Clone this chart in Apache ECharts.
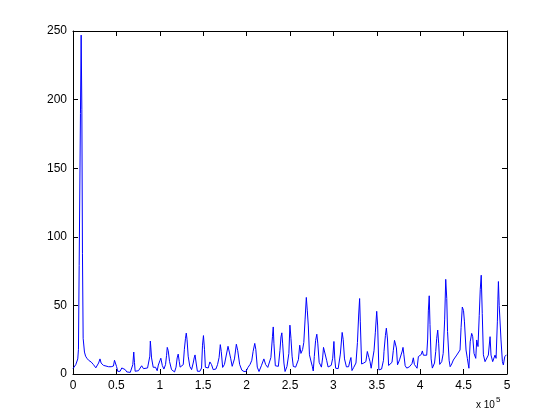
<!DOCTYPE html>
<html>
<head>
<meta charset="utf-8">
<script src="https://cdn.jsdelivr.net/npm/echarts@6/dist/echarts.min.js"></script>
<style>
  html, body { margin: 0; padding: 0; background: #fff; }
  #chart { width: 560px; height: 420px; }
</style>
</head>
<body>
<div id="chart"></div>
<script>
// x positions in thousands (axis shows them as x 10^5)
const freq = [
  0, 3.2, 5.5, 6.3, 7.1, 8.6, 9.4, 10.2, 10.9, 11.7, 13.2, 14.5, 16, 18, 21, 23.6, 26.3, 29.5, 31.1, 32.4,
  35, 37, 41, 44, 46.6, 47.8, 49.3, 50.1, 51.6, 54.3, 56.2, 57.9, 60.1, 62, 66, 68.2, 68.9, 70, 70.8, 71.6,
  75.4, 77.3, 79.1, 81.2, 83.1, 85.9, 87.8, 88.5, 89.1, 89.7, 90.5, 92.4, 95.1, 97, 98.3, 100.3, 101.2, 102.9, 104.7, 106.6,
  107.8, 108.6, 109.7, 111.2, 113.5, 115.8, 117, 118.7, 120, 121.2, 122.4, 123.4, 125, 127, 128.3, 129.6, 130.5, 131.4, 132.7, 134.6,
  136.6, 138.5, 139.6, 140.6, 141.9, 143.3, 146.2, 148.1, 149.2, 150.3, 151.5, 152.5, 155.8, 157.7, 159.6, 161.5, 164.6, 166.5, 168.3, 169.7,
  170.8, 172.4, 174.5, 176.6, 178.6, 180.1, 181.6, 183.4, 186, 188.2, 189.8, 192, 194.5, 197, 199.5, 201.5, 204, 206, 207.5, 209.4,
  210.6, 212.3, 214.3, 217, 219.9, 222, 224.4, 228, 229.8, 230.7, 231.5, 233.1, 236.6, 238.4, 239.6, 240.6, 241.5, 243, 244.3, 246.5,
  248.7, 249.9, 251.1, 252.4, 253.8, 255, 256.5, 258.4, 259.7, 261.2, 262.6, 264.5, 265.9, 267.4, 268.8, 269.9, 271.1, 272.4, 274.1, 275.7,
  276.8, 278, 279.5, 280.9, 282, 283.6, 286.2, 287.6, 288.6, 290.7, 292.2, 293.9, 297.5, 299.2, 300.6, 301.6, 302.6, 304.5, 305.5, 308,
  310.1, 311.3, 312.8, 315, 317.5, 319, 320.2, 321.4, 323.4, 326, 327.7, 329.1, 330.2, 331, 332.5, 335, 337.4, 339.1, 340.9, 342.2,
  343.5, 344.9, 346.8, 348.3, 349.9, 351, 352.4, 353.5, 355.5, 357.7, 358.3, 359.9, 361, 362.3, 363.6, 365.5, 367.5, 369, 370.4, 371.3,
  372.6, 373.9, 376.2, 379.3, 380.2, 381.2, 382.7, 384.5, 387.5, 390.5, 392.1, 393.3, 396.4, 397.9, 399, 401.2, 402.5, 403.7, 407.5, 408.6,
  409.4, 410.4, 411.3, 412.6, 414, 416.5, 417.9, 419, 420.2, 421.3, 422.5, 424.8, 426.5, 428.2, 429.4, 430.6, 431.5, 433.3, 434.5, 436.3,
  438.2, 442.1, 445.9, 447.1, 448.5, 449.9, 451, 452.8, 454.3, 456.1, 457.6, 459.3, 460.5, 462, 464, 465.1, 466.6, 468, 469.2, 470.3,
  471.5, 472.8, 474.7, 476.6, 478.5, 480.5, 481.6, 483.5, 486.2, 487.4, 488.9, 489.5, 490.1, 491, 493.1, 494.7, 495.8, 497.4, 498.5, 499.3
];
const amp = [
  4, 6.8, 11, 18, 79, 190, 247, 193, 88, 26, 16, 13, 11.5, 10, 8.7, 6.8, 4.5, 8, 11, 8,
  6.3, 5.6, 5.3, 5.3, 5.8, 10, 10.2, 5.6, 1.9, 2, 4.4, 5.3, 3.2, 1.5, 1.2, 1.5, 6.8, 16, 8.5, 2,
  2.4, 3.6, 6, 3.9, 3.2, 4.4, 5, 13, 24, 19, 11.7, 4.9, 4.9, 2.4, 6.5, 10, 11.5, 6.2, 3.6, 6.8,
  13.6, 19.4, 17, 9.2, 3.2, 3.5, 1.5, 5, 11.7, 14.5, 9.2, 5, 4.4, 6.8, 18, 26, 29.8, 25, 13, 5.5,
  3.2, 8, 11.7, 13.9, 8, 2, 2, 4.4, 21, 28, 17.7, 4.9, 4.4, 8.8, 6.8, 3.2, 3.6, 6.8, 12, 21.4,
  16.5, 4.8, 7, 8, 20.2, 16, 11.5, 5.6, 11, 21.7, 17, 7, 2.8, 1.8, 2, 4.7, 7, 10, 16.5, 22.3,
  18, 5, 1.8, 6, 11, 6.8, 4.8, 12, 27.2, 34.3, 22, 6, 5.6, 17, 27, 30, 22.5, 8, 1.8, 5.5,
  15, 35.6, 26, 13, 5.5, 6.6, 5, 4.5, 10.5, 21, 15, 17.8, 23, 40, 55.8, 46.5, 35, 14, 9.5, 5.6,
  2.2, 12.8, 24.5, 29, 22.5, 8.5, 5, 11.7, 19.4, 19.4, 10, 5.1, 6.3, 11.5, 23.7, 11, 4.2, 4.5, 3.9, 14.5,
  30.3, 25, 11, 5.2, 5.3, 9.4, 12, 2.5, 4.8, 8, 23, 43, 55, 38, 7.3, 8, 9, 16.4, 12, 9,
  4.2, 3.4, 17, 30, 45.7, 35, 3, 2, 3.6, 10, 16.5, 28, 33.4, 25.5, 6.2, 6.8, 8.5, 17, 24.5, 24.5,
  19, 6.7, 10.3, 16.7, 19.4, 14, 6, 4.3, 5.2, 7.5, 11.8, 7, 4.2, 12.7, 12.6, 14.2, 16.8, 13.7, 13.7, 25.5,
  46, 57, 36, 11, 4.3, 8, 16.5, 26, 32, 22, 7, 9, 15, 40, 69, 55, 31, 10, 5.3, 7.3,
  10.2, 13.8, 17.5, 34, 48.8, 46.3, 38, 17.5, 11.4, 4.2, 23.5, 29.6, 27.2, 15, 11.4, 24.8, 20, 42.5, 61.7, 72,
  44, 14, 9, 9, 13.8, 27.2, 13.8, 9, 13.8, 11.4, 38, 54, 67.4, 50, 24.8, 9, 6.6, 12.6, 13.8, 14
];
const xTicks = [0, 0.5, 1, 1.5, 2, 2.5, 3, 3.5, 4, 4.5, 5];
const yTicks = [0, 50, 100, 150, 200, 250];

const chart = echarts.init(document.getElementById("chart"));

const font = "Liberation Sans, Arial, Helvetica, sans-serif";

const axisCommon = {
  axisLine: { show: true, onZero: false, lineStyle: { color: "#000", width: 1 } },
  axisTick: { show: true, inside: true, length: 5, lineStyle: { color: "#000" } },
  splitLine: { show: false },
};

chart.setOption({
  animation: false,
  backgroundColor: "#fff",
  grid: { left: 73, right: 53, top: 31, bottom: 46, show: false },
  xAxis: [
    {
      ...axisCommon,
      type: "value",
      min: 0,
      max: 500,
      interval: 50,
      position: "bottom",
      axisLabel: {
        color: "#000",
        fontSize: 12,
        fontFamily: font,
        margin: 6,
        formatter: (v) => String(xTicks[Math.round(v / 50)]),
      },
    },
    {
      ...axisCommon,
      type: "value",
      min: 0,
      max: 500,
      interval: 50,
      position: "top",
      axisLabel: { show: false },
    },
  ],
  yAxis: [
    {
      ...axisCommon,
      type: "value",
      min: 0,
      max: 250,
      interval: 50,
      position: "left",
      axisLabel: {
        color: "#000",
        fontSize: 12,
        fontFamily: font,
        margin: 6,
        formatter: (v) => String(yTicks[Math.round(v / 50)]),
      },
    },
    {
      ...axisCommon,
      type: "value",
      min: 0,
      max: 250,
      interval: 50,
      position: "right",
      axisLabel: { show: false },
    },
  ],
  graphic: [
    {
      type: "text",
      left: 476,
      top: 396,
      style: {
        text: "{a|x 10}{b|5}",
        rich: {
          a: { fontSize: 10, fontFamily: font, fill: "#000", verticalAlign: "bottom", lineHeight: 14 },
          b: { fontSize: 8, fontFamily: font, fill: "#000", verticalAlign: "top", lineHeight: 14, padding: [0, 0, 6, 1] },
        },
      },
    },
  ],
  series: [
    {
      type: "line",
      data: freq.map((f, i) => [f, amp[i]]),
      showSymbol: false,
      lineStyle: { color: "#0000ff", width: 1 },
    },
  ],
});
</script>
</body>
</html>
